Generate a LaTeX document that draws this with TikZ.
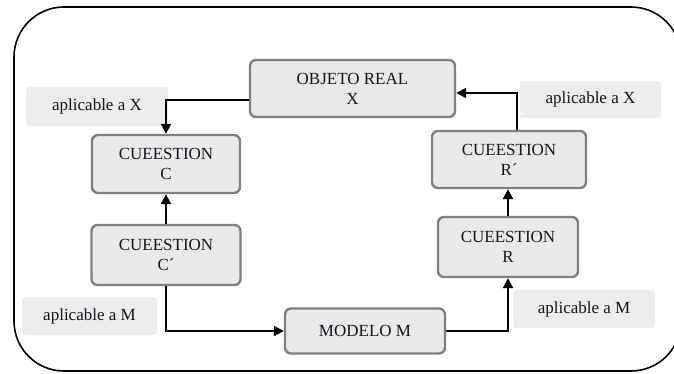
\documentclass[tikz,border=0pt]{standalone}
\usepackage{fontspec}
\setmainfont{Liberation Serif}
\usetikzlibrary{arrows.meta}
\definecolor{boxfill}{HTML}{EAEAEA}
\definecolor{boxline}{HTML}{808080}
\definecolor{notefill}{HTML}{EDEDED}
\definecolor{ink}{HTML}{141420}
\begin{document}
\begin{tikzpicture}[x=1pt,y=-1pt,
  every node/.style={font=\fontsize{17}{20}\selectfont, text=ink, align=center, inner sep=0pt},
  stepbox/.style={draw=boxline, line width=2.4pt, fill=boxfill, rounded corners=6pt},
  note/.style={fill=notefill, rounded corners=3pt},
  arr/.style={line width=2pt, -{Triangle[length=10pt,width=10pt]}}]
\useasboundingbox (0,0) rectangle (674,373);
\clip (0,0) rectangle (674,373);
% outer frame
\draw[line width=1.6pt, rounded corners=50pt] (14,7) rectangle (681,371);
% side notes
\node[note, minimum width=142pt, minimum height=39pt] (ax1) at (97,106.5) {aplicable a X};
\node[note, minimum width=135pt, minimum height=38pt] (am1) at (89.5,316) {aplicable a M};
\node[note, minimum width=141pt, minimum height=37pt] (ax2) at (590.5,99.5) {aplicable a X};
\node[note, minimum width=142pt, minimum height=38pt] (am2) at (584,309) {aplicable a M};
% stages
\node[stepbox, minimum width=205pt, minimum height=57pt] (obj) at (352.5,88.5) {OBJETO REAL\\X};
\node[stepbox, minimum width=148pt, minimum height=58pt] (c) at (166,164) {CUEESTION\\C};
\node[stepbox, minimum width=149pt, minimum height=60pt] (cp) at (166,255) {CUEESTION\\C\textasciiacute};
\node[stepbox, minimum width=160pt, minimum height=45pt] (mod) at (365,331) {MODELO M};
\node[stepbox, minimum width=140pt, minimum height=60pt] (r) at (508,247) {CUEESTION\\R};
\node[stepbox, minimum width=154pt, minimum height=57pt] (rp) at (509,159.5) {CUEESTION\\R\textasciiacute};
% cycle
\draw[arr] ([yshift=-11.5pt]obj.west) -| (c.north);
\draw[arr] (cp.north) -- (c.south);
\draw[arr] (cp.south) |- (mod.west);
\draw[arr] (mod.east) -| (r.south);
\draw[arr] (r.north) -- (r.north |- rp.south);
\draw[arr] ([xshift=8pt]rp.north) |- ([yshift=-4.5pt]obj.east);
\end{tikzpicture}
\end{document}
